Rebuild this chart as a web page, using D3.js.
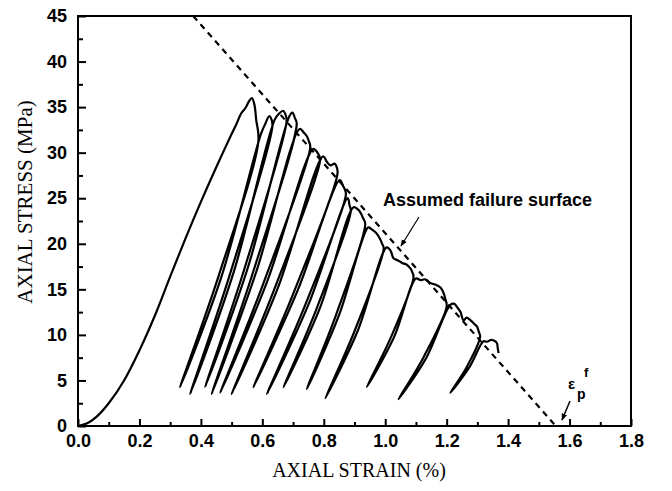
<!DOCTYPE html>
<html>
<head>
<meta charset="utf-8">
<script src="https://cdn.jsdelivr.net/npm/d3@7"></script>
<style>
  body { margin: 0; background: #fff; }
</style>
</head>
<body>
<div id="wrap"></div>
<script>
// values: strain in %, stress in MPa
// first loading up to the post-peak drop
const loading = [
  [0, 0], [0.03, 0.3], [0.06, 1.0], [0.1, 2.5], [0.15, 5.0], [0.2, 8.3],
  [0.25, 12.1], [0.3, 16.4], [0.35, 20.6], [0.4, 24.6], [0.45, 28.4],
  [0.495, 31.7], [0.515, 33.1], [0.531, 34.3], [0.545, 34.9], [0.556, 35.6],
  [0.566, 36.0], [0.574, 35.3], [0.58, 33.6]
];
// unloading / reloading loops
const loopPeak = [
  [0.587, 31.2], [0.633, 33.0], [0.679, 33.5], [0.712, 33.2], [0.756, 30.6],
  [0.788, 29.2], [0.845, 27.8], [0.872, 25.4], [0.888, 23.6], [0.935, 22.2],
  [0.995, 19.5], [1.092, 16.3], [1.2, 13.1], [1.309, 9.8]
];
const loopUnloadMid = [
  [0.457, 16.4], [0.496, 16.8], [0.543, 17.4], [0.570, 16.9], [0.605, 15.8],
  [0.640, 15.1], [0.704, 14.8], [0.741, 13.4], [0.778, 13.0], [0.840, 12.2],
  [0.900, 10.4], [1.018, 9.7], [1.124, 7.5], [1.264, 6.4]
];
const loopBottom = [
  [0.332, 4.25], [0.365, 3.5], [0.414, 4.28], [0.435, 3.5], [0.463, 3.65],
  [0.5, 3.5], [0.571, 4.25], [0.615, 3.5], [0.669, 4.25], [0.745, 4.06],
  [0.805, 3.04], [0.94, 4.28], [1.043, 2.93], [1.212, 3.65]
];
const loopReloadMid = [
  [0.467, 16.4], [0.506, 16.8], [0.553, 17.4], [0.580, 16.9], [0.615, 15.8],
  [0.650, 15.1], [0.714, 14.8], [0.751, 13.4], [0.788, 13.0], [0.850, 12.2],
  [0.910, 10.4], [1.028, 9.7], [1.134, 7.5], [1.273, 6.4]
];
// envelope pieces followed after each reload, up to the next unloading
const envelope = [
  [[0.595, 32.0], [0.61, 33.2], [0.622, 34.0], [0.628, 33.8]],
  [[0.64, 33.6], [0.655, 34.3], [0.668, 34.6], [0.675, 34.2]],
  [[0.688, 34.0], [0.698, 34.4], [0.706, 33.8]],
  [[0.722, 32.6], [0.735, 32.2], [0.745, 31.8], [0.752, 31.2]],
  [[0.765, 30.4], [0.775, 30.2], [0.783, 29.8]],
  [[0.798, 29.6], [0.81, 29.0], [0.822, 28.6], [0.835, 28.8], [0.84, 28.6]],
  [[0.852, 27.0], [0.862, 26.4], [0.868, 26.0]],
  [[0.878, 25.0], [0.884, 24.2]],
  [[0.897, 24.0], [0.91, 23.8], [0.92, 23.4], [0.928, 22.8]],
  [[0.945, 21.8], [0.955, 21.6], [0.97, 21.2], [0.982, 20.6], [0.99, 20.0]],
  [[1.005, 19.6], [1.018, 19.2], [1.027, 18.4], [1.04, 18.2], [1.055, 17.9],
   [1.07, 17.7], [1.082, 17.3], [1.088, 16.9]],
  [[1.1, 16.2], [1.115, 16.0], [1.13, 16.1], [1.147, 15.7], [1.165, 15.5],
   [1.18, 15.2], [1.19, 14.6], [1.196, 13.9]],
  [[1.212, 13.3], [1.225, 13.4], [1.235, 13.0], [1.245, 12.5], [1.255, 11.6],
   [1.265, 11.9], [1.278, 11.6], [1.29, 11.2], [1.299, 10.9], [1.305, 10.3]],
  [[1.32, 9.3], [1.331, 9.25], [1.345, 9.45], [1.358, 9.3], [1.364, 9.07],
   [1.366, 8.6], [1.369, 8.0]]
];
const failureLine = [[0.375, 45], [1.555, 0]];
const xTicks = [0, 0.2, 0.4, 0.6, 0.8, 1.0, 1.2, 1.4, 1.6, 1.8];
const xMinor = [0.1, 0.3, 0.5, 0.7, 0.9, 1.1, 1.3, 1.5, 1.7];
const yTicks = [0, 5, 10, 15, 20, 25, 30, 35, 40, 45];
const yMinor = [2.5, 7.5, 12.5, 17.5, 22.5, 27.5, 32.5, 37.5, 42.5];

const width = 672;
const height = 491;
const plot = { left: 78, right: 631, top: 16, bottom: 426 };
const sansBold = "'Liberation Sans', Arial, Helvetica, sans-serif";
const serif = "'Liberation Serif', 'Times New Roman', serif";

let svg = d3.select("#wrap")
  .append("svg")
  .attr("width", width)
  .attr("height", height);

let xScale = d3.scaleLinear().domain([0, 1.8]).range([plot.left, plot.right]);
let yScale = d3.scaleLinear().domain([0, 45]).range([plot.bottom, plot.top]);

// arrow head
svg.append("defs").append("marker")
  .attr("id", "head")
  .attr("viewBox", "0 0 10 10")
  .attr("refX", 9).attr("refY", 5)
  .attr("markerWidth", 7).attr("markerHeight", 7)
  .attr("markerUnits", "userSpaceOnUse")
  .attr("orient", "auto")
  .append("path")
  .attr("d", "M0,1 L10,5 L0,9 Z")
  .attr("fill", "#000");

// axes, ticks pointing inwards
function drawAxis() {
  const gx = svg.append("g").attr("transform", `translate(0,${plot.bottom})`);
  gx.call(d3.axisBottom(xScale).tickValues(xTicks).tickSize(-7).tickPadding(8)
    .tickFormat(d3.format(".1f")));
  const gxm = svg.append("g").attr("transform", `translate(0,${plot.bottom})`);
  gxm.call(d3.axisBottom(xScale).tickValues(xMinor).tickSize(-4).tickFormat(""));

  const gy = svg.append("g").attr("transform", `translate(${plot.left},0)`);
  gy.call(d3.axisLeft(yScale).tickValues(yTicks).tickSize(-8).tickPadding(11)
    .tickFormat(d3.format("d")));
  const gym = svg.append("g").attr("transform", `translate(${plot.left},0)`);
  gym.call(d3.axisLeft(yScale).tickValues(yMinor).tickSize(-5).tickFormat(""));

  [gx, gxm, gy, gym].forEach(g => {
    g.select(".domain").remove();
    g.selectAll(".tick line").attr("stroke", "#000").attr("stroke-width", 2);
    g.selectAll(".tick text")
      .attr("fill", "#000")
      .style("font-family", sansBold)
      .style("font-weight", "bold")
      .style("font-size", "18px");
  });

  svg.append("rect")
    .attr("x", plot.left).attr("y", plot.top)
    .attr("width", plot.right - plot.left)
    .attr("height", plot.bottom - plot.top)
    .attr("fill", "none")
    .attr("stroke", "#000")
    .attr("stroke-width", 2);

  svg.append("text")
    .attr("x", 359).attr("y", 477)
    .attr("text-anchor", "middle")
    .style("font-family", serif)
    .style("font-size", "20px")
    .text("AXIAL STRAIN (%)");

  svg.append("text")
    .attr("transform", "translate(32,202) rotate(-90)")
    .attr("text-anchor", "middle")
    .style("font-family", serif)
    .style("font-size", "21px")
    .text("AXIAL STRESS (MPa)");
}

// whole test record in order: loading, then loop by loop
function buildCurve() {
  let pts = loading.slice();
  for (let i = 0; i < loopPeak.length; i++) {
    pts.push(loopPeak[i], loopUnloadMid[i], loopBottom[i], loopReloadMid[i]);
    pts = pts.concat(envelope[i]);
  }
  return pts;
}

function draw() {
  const line = d3.line()
    .x(d => xScale(d[0]))
    .y(d => yScale(d[1]))
    .curve(d3.curveCatmullRom.alpha(0.5));

  svg.append("path")
    .datum(buildCurve())
    .attr("d", line)
    .attr("fill", "none")
    .attr("stroke", "#000")
    .attr("stroke-width", 2.2)
    .attr("stroke-linejoin", "round");

  svg.append("path")
    .datum(failureLine)
    .attr("d", d3.line().x(d => xScale(d[0])).y(d => yScale(d[1])))
    .attr("fill", "none")
    .attr("stroke", "#000")
    .attr("stroke-width", 2.2)
    .attr("stroke-dasharray", "6,5");

  // label with arrow
  svg.append("text")
    .attr("x", 383).attr("y", 206)
    .style("font-family", sansBold)
    .style("font-weight", "bold")
    .style("font-size", "18px")
    .text("Assumed failure surface");
  svg.append("line")
    .attr("x1", 419).attr("y1", 217)
    .attr("x2", 401).attr("y2", 246)
    .attr("stroke", "#000").attr("stroke-width", 1.2)
    .attr("marker-end", "url(#head)");

  // epsilon_p^f at the end of the failure line
  const eps = svg.append("text")
    .style("font-family", sansBold)
    .style("font-weight", "bold");
  eps.append("tspan").attr("x", 568).attr("y", 389)
    .style("font-size", "15px").text("ε");
  eps.append("tspan").attr("x", 577).attr("y", 399)
    .style("font-size", "14px").text("p");
  eps.append("tspan").attr("x", 584).attr("y", 377)
    .style("font-size", "13px").text("f");
  svg.append("line")
    .attr("x1", 570).attr("y1", 401)
    .attr("x2", 562).attr("y2", 420)
    .attr("stroke", "#000").attr("stroke-width", 1.5)
    .attr("marker-end", "url(#head)");
}

drawAxis();
draw();
</script>
</body>
</html>
